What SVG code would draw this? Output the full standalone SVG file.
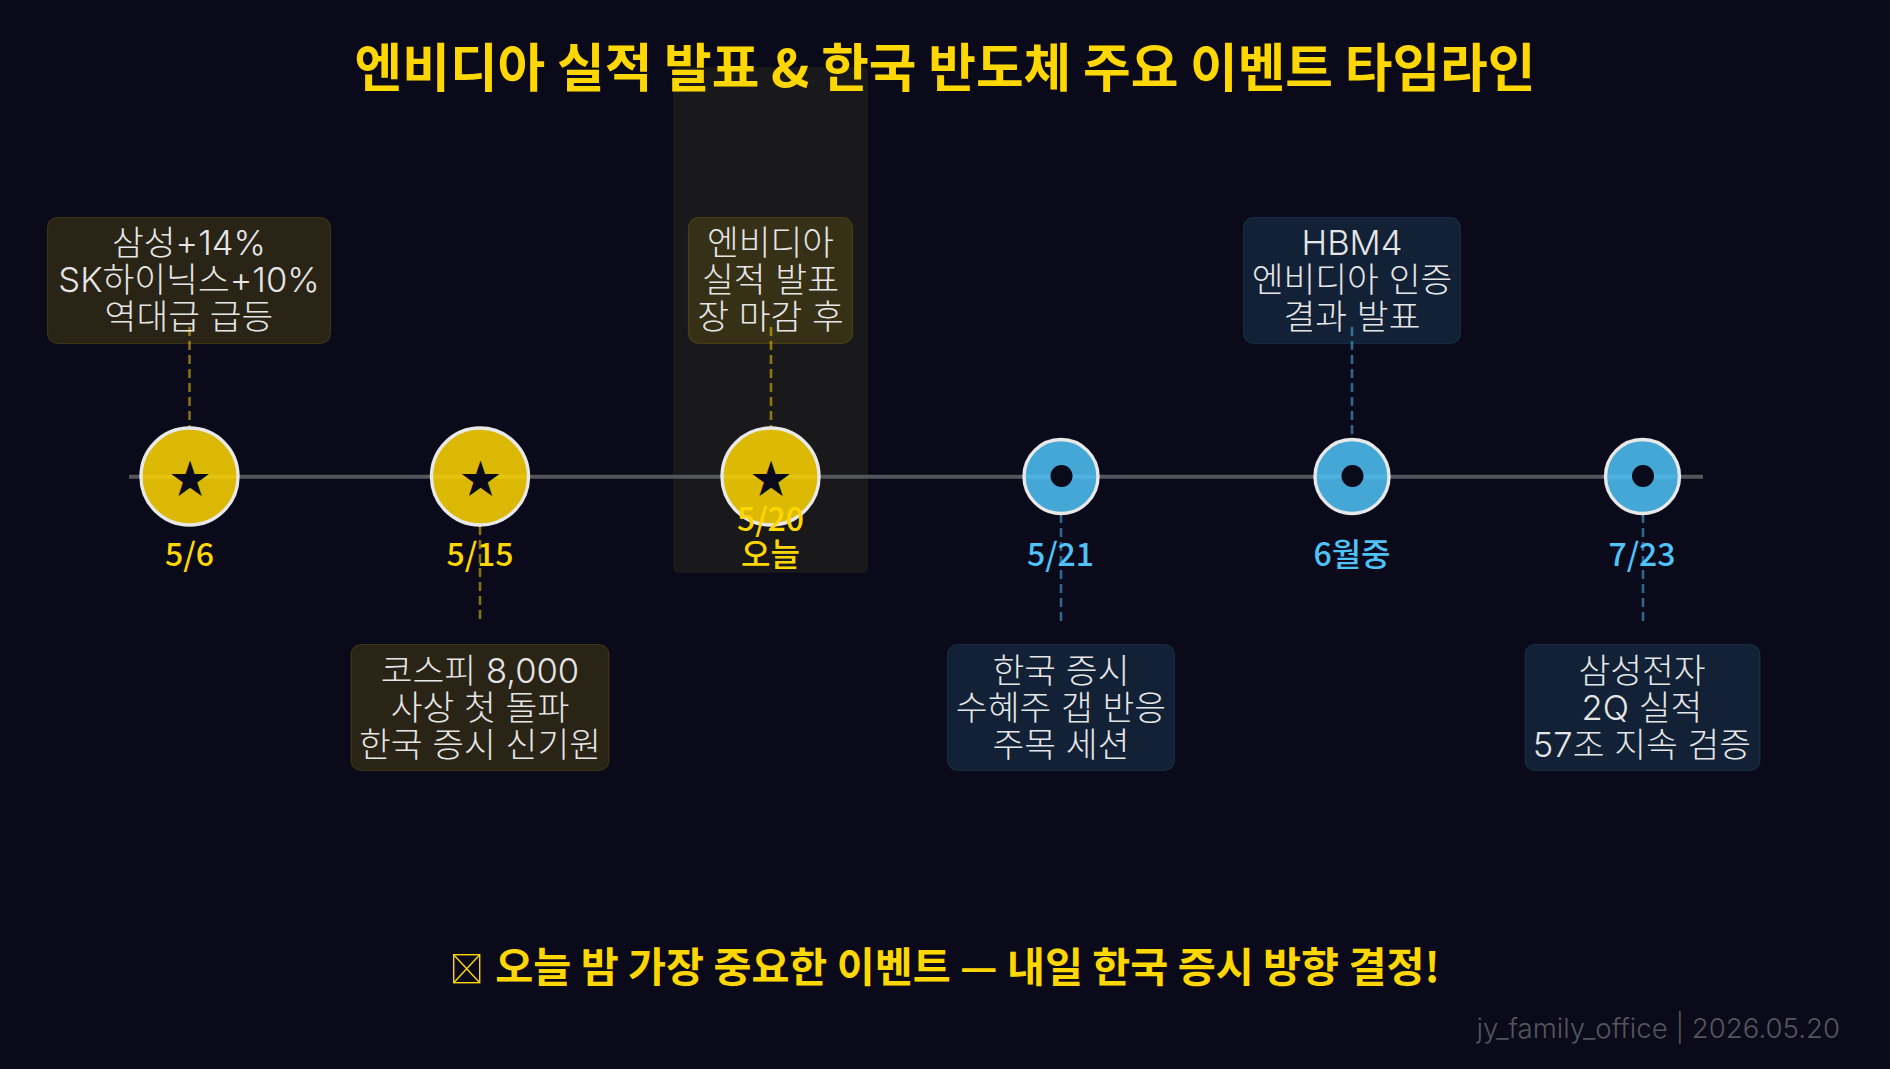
<svg xmlns="http://www.w3.org/2000/svg" width="1890" height="1069" viewBox="0 0 1890 1069">
<style>
text{font-family:"Inter","Noto Sans CJK KR",sans-serif;text-anchor:middle}
.t{font-size:34.6px;font-weight:300;fill:#e6e6e6}
.d{font-size:32px;font-weight:500;font-family:"Noto Sans CJK KR",sans-serif}
.y{fill:#ffd700}.b{fill:#4fc3f7}
.k{font-family:"Noto Sans CJK KR",sans-serif;font-weight:700}
.s{font-size:40px;fill:#0a0a1a;font-family:"Noto Sans CJK KR",sans-serif}
.by{fill:#ffd700;fill-opacity:.13;stroke:#ffd700;stroke-opacity:.15;stroke-width:1.2}
.bb{fill:#4fc3f7;fill-opacity:.13;stroke:#4fc3f7;stroke-opacity:.13;stroke-width:1.2}
.cy{fill:#ffd700;fill-opacity:.85;stroke:#e8e8e8;stroke-width:3.4}
.cb{fill:#4fc3f7;fill-opacity:.85;stroke:#e8e8e8;stroke-width:3.4}
.ly{stroke:#ffd700;stroke-opacity:.5;stroke-width:2.6;stroke-dasharray:9 5;fill:none}
.lb{stroke:#4fc3f7;stroke-opacity:.5;stroke-width:2.6;stroke-dasharray:9 5;fill:none}
</style>
<rect width="1890" height="1069" fill="#0a0a1a"/>
<rect x="674" y="68" width="193" height="504" rx="4" fill="#19181b" stroke="#221f1a" stroke-width="1.2"/>
<text x="945" y="86.5" font-size="51.8" class="y k">엔비디아 실적 발표 &amp; 한국 반도체 주요 이벤트 타임라인</text>
<line x1="129" y1="476.7" x2="1703" y2="476.7" stroke="#55555c" stroke-width="4"/>
<g id="connectors">
<line class="ly" x1="189.5" y1="327" x2="189.5" y2="427"/>
<line class="ly" x1="480" y1="526" x2="480" y2="622"/>
<line class="ly" x1="771" y1="327" x2="771" y2="427"/>
<line class="lb" x1="1061" y1="514" x2="1061" y2="622"/>
<line class="lb" x1="1352" y1="327" x2="1352" y2="439"/>
<line class="lb" x1="1643" y1="514" x2="1643" y2="622"/>
</g>
<g id="n1"><rect class="by" x="47.5" y="217.5" width="283" height="126" rx="10"/><text class="t"><tspan x="189" y="255">삼성+14%</tspan><tspan x="189" y="292">SK하이닉스+10%</tspan><tspan x="189" y="329">역대급 급등</tspan></text>
<circle class="cy" cx="189.5" cy="476.5" r="48.5"/><text class="s" x="190" y="493">★</text><text class="d y" x="189.5" y="566">5/6</text></g>
<g id="n2"><rect class="by" x="351" y="644.5" width="258" height="126" rx="10"/><text class="t"><tspan x="480" y="683">코스피 8,000</tspan><tspan x="480" y="720">사상 첫 돌파</tspan><tspan x="480" y="757">한국 증시 신기원</tspan></text>
<circle class="cy" cx="480" cy="476.5" r="48.5"/><text class="s" x="480.5" y="493">★</text><text class="d y" x="480" y="566">5/15</text></g>
<g id="n3"><rect class="by" x="688.5" y="217.5" width="164" height="126" rx="10"/><text class="t"><tspan x="770.5" y="255">엔비디아</tspan><tspan x="770.5" y="292">실적 발표</tspan><tspan x="770.5" y="329">장 마감 후</tspan></text>
<circle class="cy" cx="770.5" cy="476.5" r="48.5"/><text class="s" x="771" y="493">★</text><text class="d y"><tspan x="770.5" y="531">5/20</tspan><tspan x="770.5" y="566">오늘</tspan></text></g>
<g id="n4"><rect class="bb" x="947.5" y="644.5" width="227" height="126" rx="10"/><text class="t"><tspan x="1061" y="683">한국 증시</tspan><tspan x="1061" y="720">수혜주 갭 반응</tspan><tspan x="1061" y="757">주목 세션</tspan></text>
<circle class="cb" cx="1061" cy="476.5" r="37"/><circle cx="1061.5" cy="476" r="11" fill="#0a0a1a"/><text class="d b" x="1060.5" y="566">5/21</text></g>
<g id="n5"><rect class="bb" x="1243.5" y="217.5" width="217" height="126" rx="10"/><text class="t"><tspan x="1352" y="255">HBM4</tspan><tspan x="1352" y="292">엔비디아 인증</tspan><tspan x="1352" y="329">결과 발표</tspan></text>
<circle class="cb" cx="1352" cy="476.5" r="37"/><circle cx="1352.5" cy="476" r="11" fill="#0a0a1a"/><text class="d b" x="1352" y="566">6월중</text></g>
<g id="n6"><rect class="bb" x="1525" y="644.5" width="235" height="126" rx="10"/><text class="t"><tspan x="1642" y="683">삼성전자</tspan><tspan x="1642" y="720">2Q 실적</tspan><tspan x="1642" y="757">57조 지속 검증</tspan></text>
<circle class="cb" cx="1642.5" cy="476.5" r="37"/><circle cx="1643" cy="476" r="11" fill="#0a0a1a"/><text class="d b" x="1642" y="566">7/23</text></g>
<g id="note-mark" fill="none" stroke="#ffd700" stroke-width="1.4"><rect x="453.7" y="954.7" width="26" height="28"/><path d="M453.7 954.7L479.7 982.7M479.7 954.7L453.7 982.7"/></g>
<text x="967.5" y="982" font-size="41.3" class="y k">오늘 밤 가장 중요한 이벤트 — 내일 한국 증시 방향 결정!</text>
<text x="1840" y="1038" font-size="27.6" font-weight="300" fill="#55555c" style="text-anchor:end">jy_family_office | 2026.05.20</text>
</svg>
